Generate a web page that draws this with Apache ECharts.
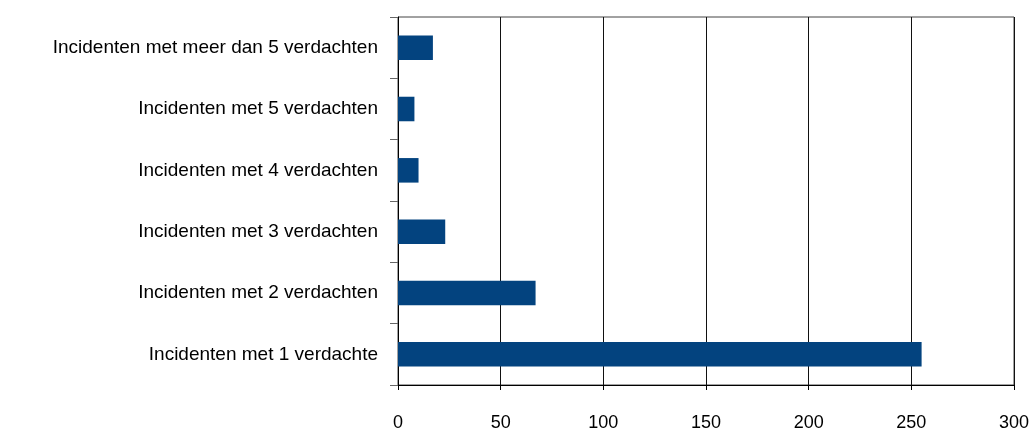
<!DOCTYPE html>
<html>
<head>
<meta charset="utf-8">
<script src="https://cdn.jsdelivr.net/npm/echarts@6/dist/echarts.min.js"></script>
<style>
  html, body { margin: 0; padding: 0; background: #fff; }
  #chart { width: 1036px; height: 432px; }
</style>
</head>
<body>
<div id="chart"></div>
<script>
// categories bottom -> top
const categories = [
    'Incidenten met 1 verdachte',
    'Incidenten met 2 verdachten',
    'Incidenten met 3 verdachten',
    'Incidenten met 4 verdachten',
    'Incidenten met 5 verdachten',
    'Incidenten met meer dan 5 verdachten'
];
const incidentCounts = [255, 67, 23, 10, 8, 17];

const chart = echarts.init(document.getElementById('chart'));

const option = {
    animation: false,
    grid: {
        left: 398,
        right: 22,
        top: 17,
        bottom: 47,
        show: true,
        borderColor: '#444',
        borderWidth: 1
    },
    xAxis: {
        type: 'value',
        min: 0,
        max: 300,
        interval: 50,
        axisLine: { show: true, lineStyle: { color: '#000' } },
        axisTick: { show: true, inside: false, length: 5, lineStyle: { color: '#000' } },
        axisLabel: {
            color: '#000',
            fontFamily: 'Liberation Sans',
            fontSize: 18,
            margin: 29
        },
        splitLine: { show: true, lineStyle: { color: '#111', width: 1 } }
    },
    yAxis: {
        type: 'category',
        data: categories,
        axisLine: { show: true, lineStyle: { color: '#000' } },
        axisTick: { show: true, inside: false, length: 8, lineStyle: { color: '#666' } },
        axisLabel: {
            color: '#000',
            fontFamily: 'Liberation Sans',
            fontSize: 19,
            margin: 20
        },
        splitLine: { show: false }
    },
    series: [
        {
            type: 'bar',
            data: incidentCounts,
            barWidth: '40%',
            itemStyle: { color: '#03437F' }
        }
    ]
};

chart.setOption(option);
</script>
</body>
</html>
